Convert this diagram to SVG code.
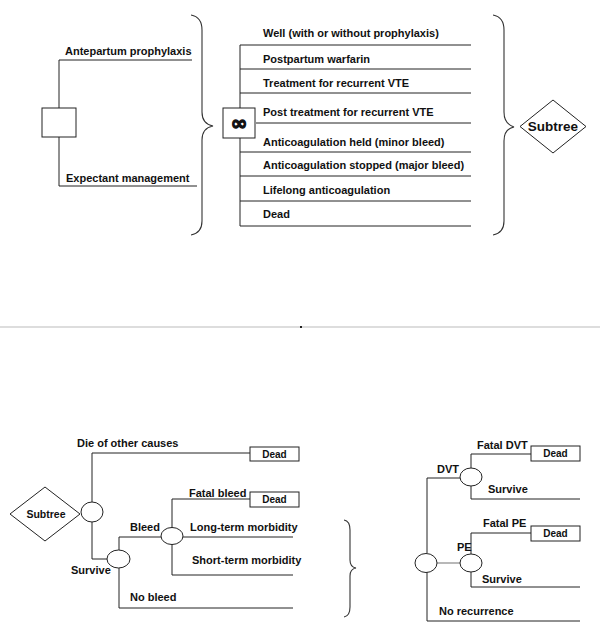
<svg xmlns="http://www.w3.org/2000/svg" width="600" height="636" viewBox="0 0 600 636">
<style>
text{font-family:"Liberation Sans",Arial,sans-serif;font-weight:bold;font-size:11px;fill:#111}
.ln{stroke:#222;stroke-width:1;fill:none}
.nd{stroke:#222;stroke-width:1;fill:#fff}
.br{stroke:#333;stroke-width:1.1;fill:none}
.dead{font-size:10px;text-anchor:middle}
.mid{text-anchor:middle}
</style>
<rect width="600" height="636" fill="#fff"/>
<g id="connectors">
<path class="ln" d="M192,60 H59 V108 M59,137 V186 H197"/>
<path class="ln" d="M240,45 H471 M240,69 H471 M240,93 H471 M256,123 H471 M240,152 H471 M240,176 H471 M240,201 H471 M240,226 H471"/>
<path class="ln" d="M240,45 V108 M240,138 V226"/>
<path class="ln" d="M92,502 V453 H250"/>
<path class="ln" d="M92,522 V559 H107"/>
<path class="ln" d="M119,550 V537 H161 M119,568 V608 H293"/>
<path class="ln" d="M172,528 V499 H250 M183,537 H293 M172,544 V575 H293"/>
<path class="ln" d="M427,553 V478 H460 M427,572 V621 H580"/>
<path class="ln" d="M471,468 V454 H531 M471,486 V499 H580"/>
<path class="ln" d="M471,554 V533 H531 M471,572 V587 H580"/>
<path d="M437,563 H460" stroke="#888" stroke-width="1.2"/>
</g>
<g id="braces">
<path class="br" d="M191,15 Q202,17 202,30 L202,112 Q202,124 213,126 Q202,128 202,140 L202,221 Q202,233 191,235"/>
<path class="br" d="M493,15 Q504,17 504,30 L504,112 Q504,124 514,127 Q504,129 504,141 L504,221 Q504,233 493,235"/>
<path class="br" d="M344,520 Q350,521 350,530 L350,560 Q350,567 356,568 Q350,569 350,576 L350,607 Q350,616 344,617"/>
</g>
<line id="separator" x1="0" y1="327" x2="600" y2="327" stroke="#bbb" stroke-width="1"/>
<rect x="300" y="326" width="2" height="2" fill="#222"/>
<g id="decision">
<rect class="nd" x="42" y="108" width="34" height="29"/>
</g>
<g id="labels-top">
<text x="65" y="55">Antepartum prophylaxis</text>
<text x="66" y="182">Expectant management</text>
</g>
<g id="markov">
<rect class="nd" x="223" y="108" width="32" height="30"/>
<text x="239" y="130" class="mid" style="font-family:'DejaVu Sans',sans-serif;font-size:20px;stroke:#111;stroke-width:1.2">∞</text>
</g>
<g id="markov-states">
<text x="263" y="37">Well (with or without prophylaxis)</text>
<text x="263" y="63">Postpartum warfarin</text>
<text x="263" y="87">Treatment for recurrent VTE</text>
<text x="263" y="116">Post treatment for recurrent VTE</text>
<text x="263" y="146">Anticoagulation held (minor bleed)</text>
<text x="263" y="169">Anticoagulation stopped (major bleed)</text>
<text x="263" y="194">Lifelong anticoagulation</text>
<text x="263" y="218">Dead</text>
</g>
<g id="subtree-top">
<polygon class="nd" points="520,126.5 553,100 586,126.5 553,153"/>
<text x="553" y="131" class="mid" style="font-size:13.5px">Subtree</text>
</g>
<g id="subtree-bottom">
<polygon class="nd" points="10,514 45,487 80,514 45,541"/>
<text x="46" y="518" class="mid" style="font-size:10.5px">Subtree</text>
</g>
<g id="chance-survival">
<ellipse class="nd" cx="92" cy="512" rx="11" ry="10"/>
</g>
<g id="chance-bleed">
<ellipse class="nd" cx="118.5" cy="559" rx="11.5" ry="9"/>
</g>
<g id="chance-bleed-outcome">
<ellipse class="nd" cx="172" cy="536" rx="11" ry="8.5"/>
</g>
<g id="dead-1">
<rect class="nd" x="250" y="447" width="49" height="14"/>
<text x="274.5" y="458" class="dead">Dead</text>
</g>
<g id="dead-2">
<rect class="nd" x="250" y="492" width="49" height="15"/>
<text x="274.5" y="503" class="dead">Dead</text>
</g>
<g id="labels-bottom-left">
<text x="77" y="447">Die of other causes</text>
<text x="71" y="574">Survive</text>
<text x="130" y="531">Bleed</text>
<text x="130" y="601">No bleed</text>
<text x="189" y="497">Fatal bleed</text>
<text x="190" y="531">Long-term morbidity</text>
<text x="192" y="564">Short-term morbidity</text>
</g>
<g id="chance-recurrence">
<ellipse class="nd" cx="426" cy="563" rx="11" ry="9.5"/>
</g>
<g id="chance-dvt">
<ellipse class="nd" cx="471" cy="477" rx="11" ry="9"/>
</g>
<g id="chance-pe">
<ellipse class="nd" cx="471" cy="563" rx="11" ry="9"/>
</g>
<g id="dead-3">
<rect class="nd" x="531" y="446" width="49" height="15"/>
<text x="555.5" y="457" class="dead">Dead</text>
</g>
<g id="dead-4">
<rect class="nd" x="531" y="526" width="49" height="15"/>
<text x="555.5" y="537" class="dead">Dead</text>
</g>
<g id="labels-bottom-right">
<text x="437" y="473">DVT</text>
<text x="477" y="449">Fatal DVT</text>
<text x="488" y="493">Survive</text>
<text x="457" y="551">PE</text>
<text x="483" y="527">Fatal PE</text>
<text x="482" y="583">Survive</text>
<text x="439" y="615">No recurrence</text>
</g>
</svg>
